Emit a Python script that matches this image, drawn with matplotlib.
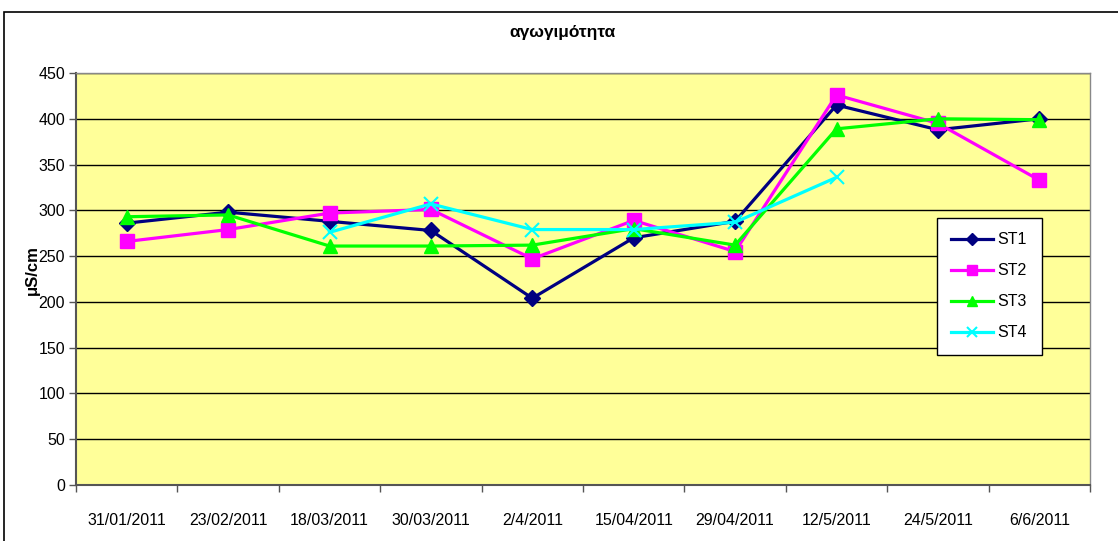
import numpy as np
import matplotlib
matplotlib.use("Agg")
import matplotlib.pyplot as plt
from matplotlib.patches import Rectangle

# --- Dados ---
DATES = ["31/01/2011", "23/02/2011", "18/03/2011", "30/03/2011", "2/4/2011",
         "15/04/2011", "29/04/2011", "12/5/2011", "24/5/2011", "6/6/2011"]
ST1 = [286, 298, 288, 278, 204, 270, 288, 415, 388, 400]
ST2 = [266, 279, 297, 301, 247, 289, 255, 426, 395, 333]
ST3 = [293, 295, 261, 261, 262, 280, 262, 389, 400, 399]
ST4 = [np.nan, np.nan, 276, 307, 279, 279, 287, 336, np.nan, np.nan]
YTICKS = list(range(0, 451, 50))

plt.rcParams["font.family"] = ["Liberation Sans", "DejaVu Sans"]

fig = plt.figure(figsize=(11.18, 5.41), dpi=100)
fig.patches.append(Rectangle((4 / 1118, -0.01), 1.2, 1 - 12 / 541 + 0.01,
                             transform=fig.transFigure, fill=False,
                             edgecolor="black", linewidth=1.2))

ax = fig.add_axes([76 / 1118, 56 / 541, 1014 / 1118, 412 / 541])
ax.set_facecolor("#FFFF99")

x = np.arange(len(DATES))
series = [
    ("ST1", ST1, "#000080", "D", 8),
    ("ST2", ST2, "#FF00FF", "s", 10),
    ("ST3", ST3, "#00FF00", "^", 10),
    ("ST4", ST4, "#00FFFF", "x", 10),
]
for name, vals, color, marker, ms in series:
    ax.plot(x, vals, color=color, marker=marker, markersize=ms, linewidth=2.3,
            markeredgewidth=1.5 if marker == "x" else 1, label=name)

ax.set_xlim(-0.5, len(DATES) - 0.5)
ax.set_ylim(0, 450)
ax.set_yticks(YTICKS)
ax.set_yticklabels([str(v) for v in YTICKS], fontsize=11.5)
ax.yaxis.grid(True, color="black", linewidth=1)
ax.set_axisbelow(True)

ax.set_xticks(x)
ax.set_xticklabels(DATES, fontsize=11.5)
ax.tick_params(axis="x", length=0, pad=20)
ax.set_xticks(np.arange(-0.5, len(DATES)), minor=True)
ax.tick_params(axis="x", which="minor", length=5, color="#555555", width=1)
ax.tick_params(axis="y", length=5, color="#555555", width=1, pad=3)

for side in ["top", "right"]:
    ax.spines[side].set_color("#888888")
    ax.spines[side].set_linewidth(1)
for side in ["left", "bottom"]:
    ax.spines[side].set_color("#555555")
    ax.spines[side].set_linewidth(1.5)

fig.text(562 / 1118, 1 - 32 / 541, "αγωγιμότητα", ha="center", va="center",
         fontsize=12.5, fontweight="bold")
fig.text(32 / 1118, 1 - 270 / 541, "μS/cm", ha="center", va="center",
         rotation=90, fontsize=12, fontweight="bold")

leg = ax.legend(loc="upper left", bbox_to_anchor=((937 - 76) / 1014, (485 - 218) / 412),
                fontsize=11.5, fancybox=False, framealpha=1, edgecolor="black",
                handlelength=2.6, handletextpad=0.3, markerscale=0.75,
                labelspacing=1.0, borderpad=0.9, borderaxespad=0)
leg.get_frame().set_linewidth(1)

fig.savefig("out.png", dpi=100)
